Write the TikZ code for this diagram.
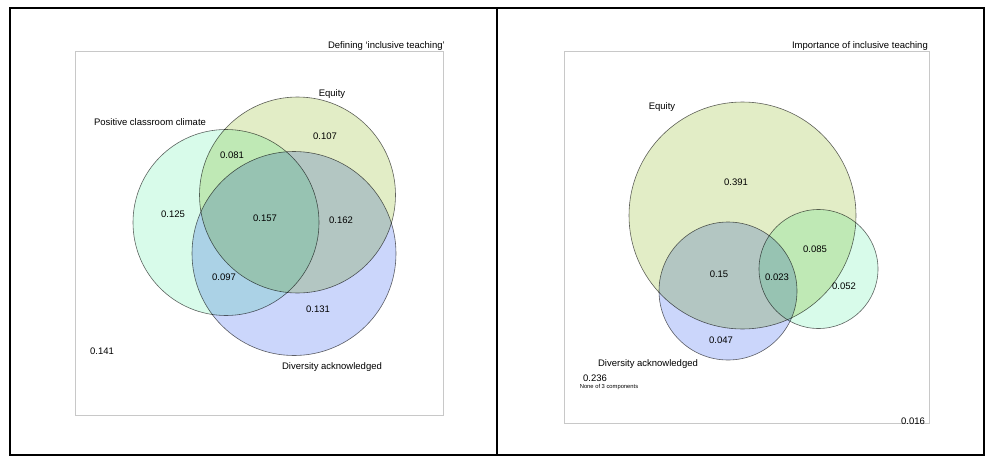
\documentclass[tikz,border=0pt]{standalone}
\usepackage{fontspec}
\setmainfont{Liberation Sans}
\usepackage{tikz}
\usetikzlibrary{calc}
\definecolor{climatecol}{HTML}{D8FBEA}
\definecolor{equitycol}{HTML}{E2EDC6}
\definecolor{diversitycol}{HTML}{CBD6FB}
\definecolor{framecol}{HTML}{C8C8C8}
\tikzset{
  setcircle/.style={draw=black!60, line width=0.6pt},
  climate/.style={setcircle, fill=climatecol},
  equity/.style={setcircle, fill=equitycol},
  diversity/.style={setcircle, fill=diversitycol},
  plotframe/.style={draw=framecol, line width=1pt},
  value/.style={font=\fontsize{9.5}{11}\selectfont, inner sep=0pt},
  setlabel/.style={font=\fontsize{9.5}{11}\selectfont, inner sep=0pt},
  tiny/.style={font=\fontsize{5.8}{7}\selectfont, inner sep=0pt}
}

\begin{document}
\begin{tikzpicture}[x=1pt, y=-1pt]
    \useasboundingbox (0,0) rectangle (999,472);

    % outer table
    \coordinate (TL) at ( 10,   8);
    \coordinate (BR) at (984, 455);
    \coordinate (MidTop) at (497, 8);
    \coordinate (MidBot) at (497, 455);
    \draw [line width=1.4pt] (TL) rectangle (BR);
    \draw [line width=1.2pt] (MidTop) -- (MidBot);

    % left panel: Defining 'inclusive teaching'
    \coordinate (LFrameA) at ( 75,  51);
    \coordinate (LFrameB) at (443, 415);
    \coordinate (LClimate)   at (226, 222.5);
    \coordinate (LEquity)    at (297.5, 195);
    \coordinate (LDiversity) at (294, 253.5);

    \draw [plotframe] (LFrameA) rectangle (LFrameB);
    \node [setlabel, anchor=base east] (ltitle) at (445, 48.5) {Defining `inclusive teaching'};

    \begin{scope}[blend group=multiply]
      \draw [diversity] (LDiversity) circle (102);
      \draw [climate]   (LClimate)   circle (93);
      \draw [equity]    (LEquity)    circle (98);
    \end{scope}

    \node [setlabel] (lequity)    at (332,  94) {Equity};
    \node [setlabel] (lclimate)   at (150, 122) {Positive classroom climate};
    \node [setlabel] (ldiversity) at (332, 367) {Diversity acknowledged};

    \node [value] (l107) at (325, 136) {0.107};
    \node [value] (l081) at (232, 155) {0.081};
    \node [value] (l125) at (173, 214) {0.125};
    \node [value] (l157) at (265, 218) {0.157};
    \node [value] (l162) at (341, 220) {0.162};
    \node [value] (l097) at (224, 277) {0.097};
    \node [value] (l131) at (318, 309) {0.131};
    \node [value] (l141) at (102, 351) {0.141};

    % right panel: Importance of inclusive teaching
    \coordinate (RFrameA) at (564,  51);
    \coordinate (RFrameB) at (929, 423);
    \coordinate (REquity)    at (742.5, 215.5);
    \coordinate (RDiversity) at (728, 291);
    \coordinate (RClimate)   at (818.5, 269);

    \draw [plotframe] (RFrameA) rectangle (RFrameB);
    \node [setlabel, anchor=base east] (rtitle) at (928, 48.5) {Importance of inclusive teaching};

    \begin{scope}[blend group=multiply]
      \draw [diversity] (RDiversity) circle (69);
      \draw [climate]   (RClimate)   circle (59.5);
      \draw [equity]    (REquity)    circle (113.5);
    \end{scope}

    \node [setlabel] (requity)    at (662, 107) {Equity};
    \node [setlabel] (rdiversity) at (648, 364) {Diversity acknowledged};

    \node [value] (r391) at (736, 182) {0.391};
    \node [value] (r085) at (815, 249) {0.085};
    \node [value] (r150) at (719, 274) {0.15};
    \node [value] (r023) at (777, 277) {0.023};
    \node [value] (r052) at (844, 286) {0.052};
    \node [value] (r047) at (721, 340) {0.047};
    \node [value] (r236) at (595, 378) {0.236};
    \node [tiny]  (rnone) at (609, 387) {None of 3 components};
    \node [value, anchor=base] (r016) at (913, 424) {0.016};
\end{tikzpicture}
\end{document}
